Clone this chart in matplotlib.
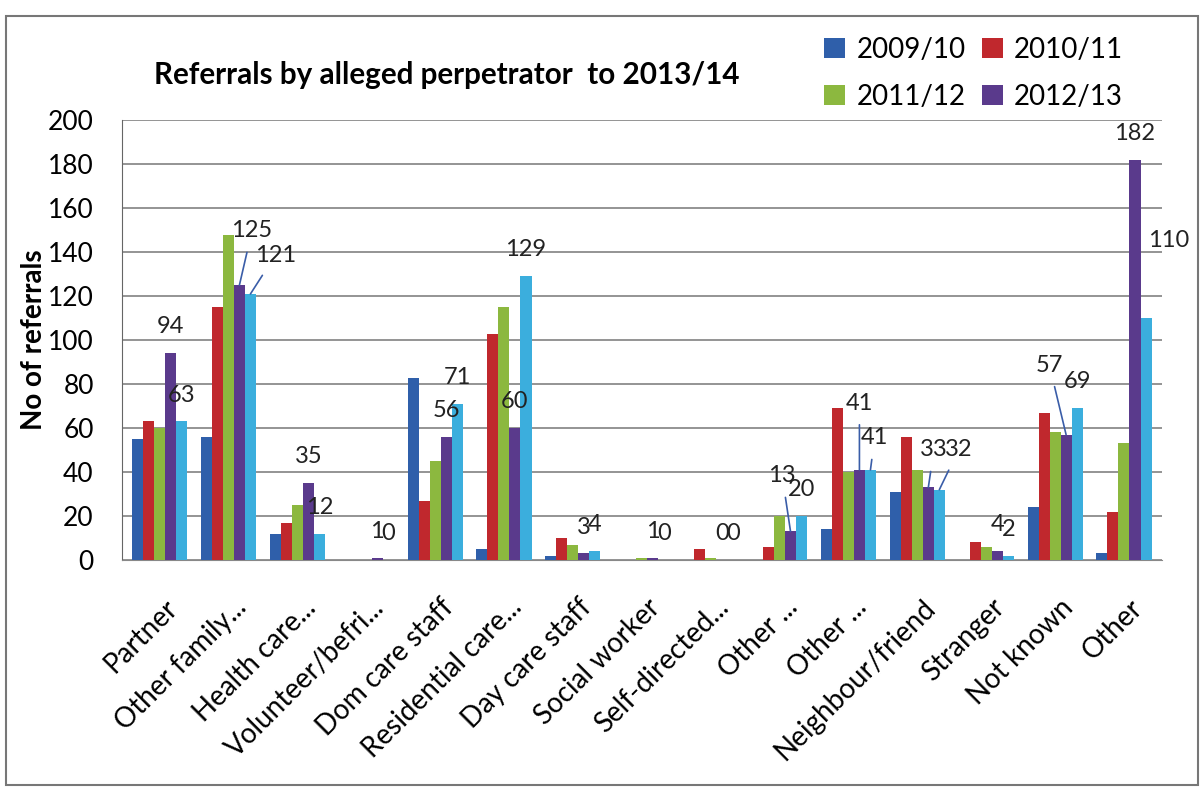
import numpy as np
import matplotlib
matplotlib.use("Agg")
import matplotlib.pyplot as plt
from matplotlib.patches import Rectangle
from matplotlib.transforms import ScaledTranslation

categories = ["Partner", "Other family...", "Health care...", "Volunteer/befri...",
              "Dom care staff", "Residential care...", "Day care staff", "Social worker",
              "Self-directed...", "Other ...", "Other ...", "Neighbour/friend",
              "Stranger", "Not known", "Other"]

y2009 = [55, 56, 12, 0, 83, 5, 2, 0, 0, 0, 14, 31, 0, 24, 3]
y2010 = [63, 115, 17, 0, 27, 103, 10, 0, 5, 6, 69, 56, 8, 67, 22]
y2011 = [60, 148, 25, 0, 45, 115, 7, 1, 1, 20, 40, 41, 6, 58, 53]
y2012 = [94, 125, 35, 1, 56, 60, 3, 1, 0, 13, 41, 33, 4, 57, 182]
y2013 = [63, 121, 12, 0, 71, 129, 4, 0, 0, 20, 41, 32, 2, 69, 110]

series_names = ["2009/10", "2010/11", "2011/12", "2012/13", "_2013/14"]
colors = ["#2F5FAA", "#C0282D", "#8CB83F", "#5A3A8C", "#3BAEDD"]

plt.rcParams['font.family'] = ['Lato', 'DejaVu Sans']

fig = plt.figure(figsize=(12.04, 7.91), dpi=100)
ax = fig.add_axes([0.101, 0.292, 0.864, 0.556])

x = np.arange(len(categories))
w = 0.16
data = [y2009, y2010, y2011, y2012, y2013]
for i, vals in enumerate(data):
    ax.bar(x + (i - 2) * w, vals, w, color=colors[i], label=series_names[i], zorder=3)

# data labels for the last two series: (category, series) -> offset in points, leader line
label_off = {
    (1, 3): (9, 39, True), (1, 4): (18, 28, True),
    (9, 3): (-6, 40, True),
    (10, 3): (0, 48, True), (10, 4): (3, 23, True),
    (11, 3): (4, 27, True), (11, 4): (14, 29, True),
    (13, 3): (-12, 50, True),
    (14, 4): (16, 56, False),
}
for i in (3, 4):
    for j, v in enumerate(data[i]):
        xpos = x[j] + (i - 2) * w
        dx, dy, lead = label_off.get((j, i), (0, 19, False))
        arrow = dict(arrowstyle='-', color='#3A5DA8', lw=1.2, shrinkA=6, shrinkB=0) if lead else None
        ax.annotate(str(v), (xpos, v), xytext=(dx, dy), textcoords='offset points',
                    ha='center', va='center', fontsize=17, color='#222222',
                    arrowprops=arrow, zorder=4, annotation_clip=False)

ax.set_ylim(0, 200)
ax.set_xlim(-0.55, len(categories) - 0.45)
ax.set_yticks(range(0, 201, 20))
ax.yaxis.grid(True, color='#777777', lw=1.1, zorder=0)
ax.tick_params(axis='y', labelsize=19, length=0, pad=20)
ax.set_xticks(x)
ax.set_xticklabels(categories, rotation=45, ha='right', rotation_mode='anchor', fontsize=20)
ax.tick_params(axis='x', length=0, pad=16)
shift = ScaledTranslation(0.05, -0.12, fig.dpi_scale_trans)
for lab in ax.get_xticklabels():
    lab.set_transform(lab.get_transform() + shift)
for s in ['top', 'right']:
    ax.spines[s].set_visible(False)
ax.spines['left'].set_color('#666666')
ax.spines['bottom'].set_color('#888888')

ax.set_ylabel("No of referrals", fontsize=20, fontweight='bold')
ax.yaxis.set_label_coords(-0.072, 0.5)

fig.text(0.128, 0.905, "Referrals by alleged perpetrator  to 2013/14", fontsize=21.3,
         fontweight='bold', va='center')

handles, labels = ax.get_legend_handles_labels()
order = [0, 2, 1, 3]
fig.legend([handles[k] for k in order], [labels[k] for k in order],
           loc='upper left', bbox_to_anchor=(0.664, 0.985), ncol=2, fontsize=20,
           frameon=False, handlelength=0.75, handleheight=0.75, handletextpad=0.4,
           columnspacing=0.6, labelspacing=0.75)

fig.patches.append(Rectangle((0.005, 0.008), 0.99, 0.972, transform=fig.transFigure,
                             fill=False, edgecolor='#777777', lw=1.5))

fig.savefig("out.png", dpi=100)
